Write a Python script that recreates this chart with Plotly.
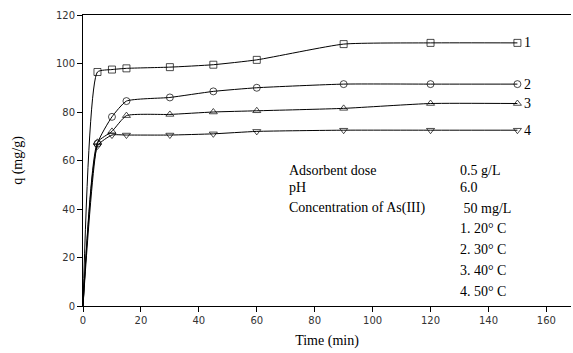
import plotly.graph_objects as go

time = [0, 5, 10, 15, 30, 45, 60, 90, 120, 150]
q1 = [0, 96.5, 97.5, 98, 98.5, 99.5, 101.5, 108, 108.5, 108.5]
q2 = [0, 67, 78, 84.5, 86, 88.5, 90, 91.5, 91.5, 91.5]
q3 = [0, 67.5, 72, 78.5, 79, 80, 80.5, 81.5, 83.5, 83.5]
q4 = [0, 66, 70.5, 70.5, 70.5, 71, 72, 72.5, 72.5, 72.5]
series = [q1, q2, q3, q4]
symbols = ["square-open", "circle-open", "triangle-up-open", "triangle-down-open"]
labels = ["1", "2", "3", "4"]

info_left = ["Adsorbent dose", "pH", "Concentration of As(III)"]
info_right = ["0.5 g/L", "6.0", " 50 mg/L", "1. 20° C", "2. 30° C", "3. 40° C", "4. 50° C"]

serif = "Liberation Serif"
sans = "DejaVu Sans"

fig = go.Figure()
for q, sym, lab in zip(series, symbols, labels):
    fig.add_trace(go.Scatter(
        x=time, y=q, mode="lines+markers",
        line=dict(color="black", width=1, shape="spline", smoothing=0.5),
        marker=dict(symbol=sym, size=[0] + [7] * (len(q) - 1), color="black", line=dict(width=1)),
        showlegend=False))
    fig.add_annotation(x=time[-1], y=q[-1], text=lab, showarrow=False, xanchor="left",
                       xshift=5, font=dict(family=serif, size=14, color="black"))

left_y = [55.7, 48.7, 40.4]
for t, y in zip(info_left, left_y):
    fig.add_annotation(x=70.5, y=y, text=t, showarrow=False, xanchor="left",
                       font=dict(family=serif, size=14, color="black"))
right_y = [55.7, 48.7, 40.4, 31.8, 23.1, 14.8, 5.8]
for t, y in zip(info_right, right_y):
    fig.add_annotation(x=129.5, y=y, text=t, showarrow=False, xanchor="left",
                       font=dict(family=serif, size=14, color="black"))

fig.update_layout(
    width=573, height=353,
    margin=dict(l=83, r=2, t=15, b=47),
    plot_bgcolor="white", paper_bgcolor="white",
    xaxis=dict(range=[0, 168.5], tickvals=[0, 20, 40, 60, 80, 100, 120, 140, 160],
               showline=True, linecolor="black", linewidth=1, mirror=True,
               ticks="outside", ticklen=5, tickcolor="black", showgrid=False, zeroline=False,
               tickfont=dict(family=sans, size=10, color="#333"),
               title=dict(text="Time (min)", font=dict(family=serif, size=14, color="black"), standoff=10)),
    yaxis=dict(range=[0, 120], tickvals=[0, 20, 40, 60, 80, 100, 120],
               showline=True, linecolor="black", linewidth=1,
               ticks="outside", ticklen=5, tickcolor="black", showgrid=False, zeroline=False,
               tickfont=dict(family=sans, size=10, color="#333"),
               title=dict(text="q (mg/g)", font=dict(family=serif, size=14, color="black"), standoff=30)),
)
fig.write_html("out.html")
